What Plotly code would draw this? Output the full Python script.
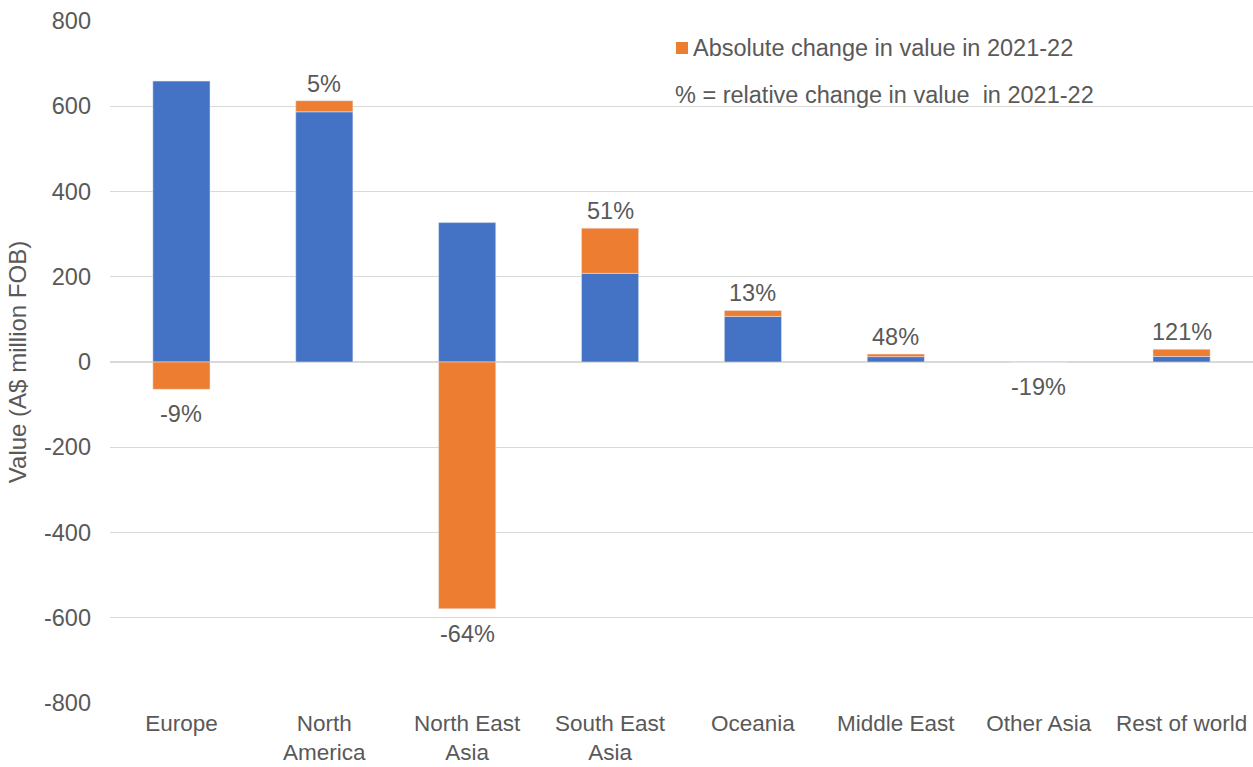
import plotly.graph_objects as go

regions = ["Europe", "North<br>America", "North East<br>Asia", "South East<br>Asia",
           "Oceania", "Middle East", "Other Asia", "Rest of world"]
base_values = [659, 587, 327, 208, 107, 12.5, 1.0, 13]
abs_change = [-64, 26, -579, 106, 14, 6, -0.2, 17]
rel_change_labels = ["-9%", "5%", "-64%", "51%", "13%", "48%", "-19%", "121%"]
y_ticks = [-800, -600, -400, -200, 0, 200, 400, 600, 800]
y_tick_text = ["-800", "-600", "-400", "-200", "0", "200", "400", "600", "800"]

BLUE = "#4472C4"
ORANGE = "#ED7D31"
TEXT = "#595959"
FONT = "Liberation Sans, Arial, sans-serif"
FS = 23.5

fig = go.Figure()
fig.add_trace(go.Bar(x=regions, y=base_values, marker_color=BLUE, showlegend=False,
                     name="Value"))
fig.add_trace(go.Bar(x=regions, y=abs_change, marker_color=ORANGE, showlegend=False,
                     name="Absolute change in value in 2021-22"))

annotations = []
for r, b, c, lab in zip(regions, base_values, abs_change, rel_change_labels):
    if c >= 0:
        yv = b + c
        shift = 17
    else:
        yv = c
        shift = -25
    annotations.append(dict(x=r, y=yv, text=lab, showarrow=False, xref="x", yref="y",
                            yanchor="middle", yshift=shift,
                            font=dict(size=FS, color=TEXT, family=FONT)))

plot_l, plot_r, plot_t, plot_b = 110, 1253, 21, 703
W, H = 1253, 767

def px_x(px):
    return (px - plot_l) / (plot_r - plot_l)

def px_y(py):
    return (plot_b - py) / (plot_b - plot_t)

annotations.append(dict(x=px_x(691), y=px_y(48), xref="paper", yref="paper",
                        text="Absolute change in value in 2021-22", showarrow=False,
                        xanchor="left", yanchor="middle",
                        font=dict(size=FS, color=TEXT, family=FONT)))
annotations.append(dict(x=px_x(673), y=px_y(95), xref="paper", yref="paper",
                        text="% = relative change in value  in 2021-22", showarrow=False,
                        xanchor="left", yanchor="middle",
                        font=dict(size=FS, color=TEXT, family=FONT)))

fig.add_shape(type="rect", xref="paper", yref="paper",
              x0=px_x(676), x1=px_x(688), y0=px_y(54), y1=px_y(42),
              fillcolor=ORANGE, line=dict(width=0))

fig.update_layout(
    barmode="relative",
    bargap=0.6,
    width=W, height=H,
    margin=dict(l=plot_l, r=W - plot_r, t=plot_t, b=H - plot_b, autoexpand=False),
    plot_bgcolor="white", paper_bgcolor="white",
    font=dict(family=FONT, size=FS, color=TEXT),
    annotations=annotations,
    xaxis=dict(showgrid=False, showline=False, ticks="", ticklabelstandoff=4,
               automargin=False, tickfont=dict(size=22.5, color=TEXT)),
    yaxis=dict(range=[-800, 800], tickvals=y_ticks, ticktext=y_tick_text,
               showgrid=True, gridcolor="#D9D9D9", automargin=False,
               gridwidth=1, zeroline=True, zerolinecolor="#D9D9D9", zerolinewidth=1.5,
               tickfont=dict(size=FS, color=TEXT), ticks="", ticklabelstandoff=18,
               title=dict(text="Value (A$ million FOB)", font=dict(size=24, color=TEXT),
                          standoff=10)),
)

fig.write_html("out.html", config={"displayModeBar": False},
               post_script="document.body.style.margin='0';")
